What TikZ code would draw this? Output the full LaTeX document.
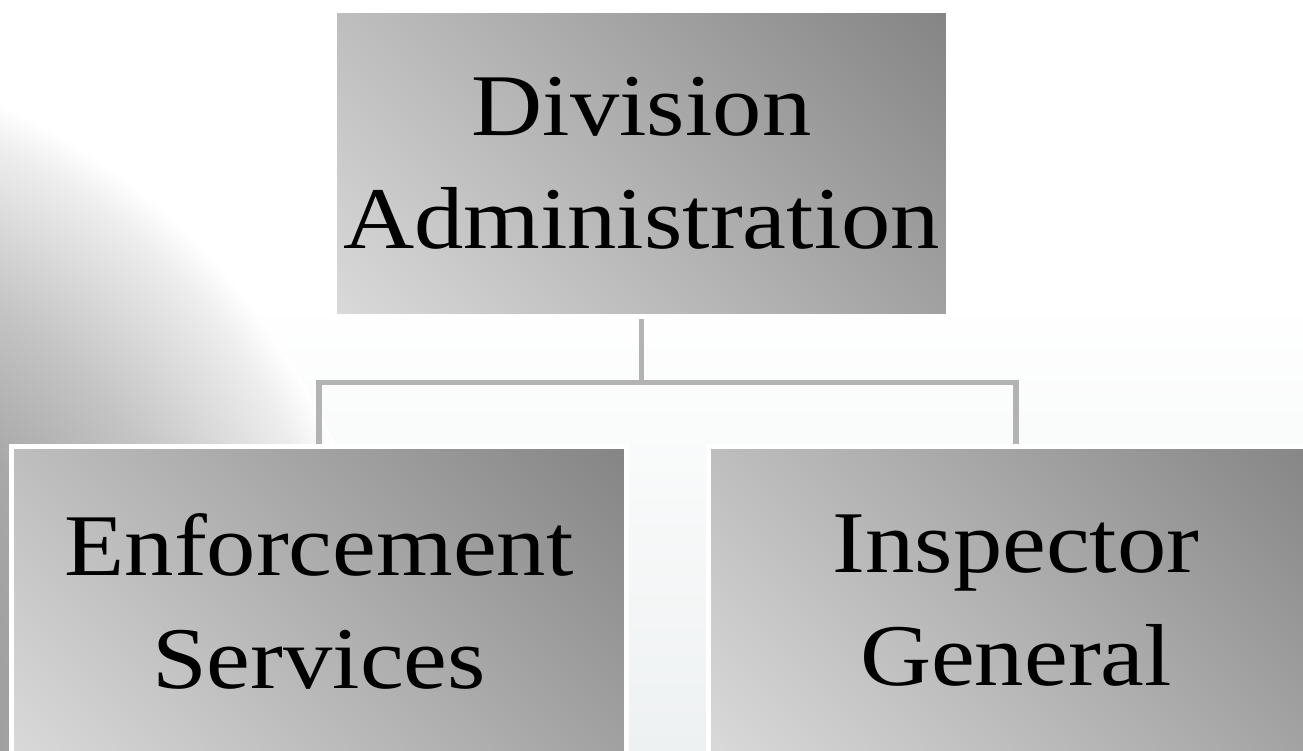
\documentclass[tikz,border=0pt]{standalone}
\usepackage{fontspec}
\setmainfont{Liberation Serif}[FakeStretch=1.12]
\definecolor{conn}{HTML}{B3B3B3}
\definecolor{tint}{RGB}{238,241,242}
\pgfdeclareradialshading{bgglow}{\pgfpointorigin}{color(0bp)=(black!44); color(14bp)=(black!34); color(18.5bp)=(black!23); color(23.5bp)=(black!7); color(25bp)=(white); color(50bp)=(white)}
\pgfdeclareverticalshading{boxgrad}{100bp}{color(0bp)=(black!8); color(50bp)=(black!31); color(100bp)=(black!55)}
\begin{document}
\begin{tikzpicture}[x=1pt,y=-1pt,
  orgbox/.style={draw=white, line width=5pt, shading=boxgrad, shading angle=-45, inner sep=0pt, align=center, font=\fontsize{88}{113}\selectfont, text=black},
  link/.style={draw=conn, line width=5.5pt}]
\useasboundingbox (0,0) rectangle (1303,750);
\clip (0,0) rectangle (1303,750);
\fill[white] (0,0) rectangle (1303,750);
\shade[top color=white, bottom color=tint] (0,300) rectangle (1303,750);
\shade[shading=bgglow] (-250,750) ellipse [x radius=650pt, y radius=700pt];
\node[orgbox, shade, minimum width=614pt, minimum height=306pt] (top) at (641.5,163.5) {Division\\Administration};
\node[orgbox, shade, minimum width=615pt, minimum height=310pt] (left) at (319,601) {Enforcement\\Services};
\node[orgbox, shade, minimum width=615pt, minimum height=310pt] (right) at (1016,601) {Inspector\\General};
\coordinate (junction) at (641.5,382.5);
\draw[link] (top.south) -- (junction);
\draw[link] (left.north) |- (junction) -| (right.north);
\end{tikzpicture}
\end{document}
